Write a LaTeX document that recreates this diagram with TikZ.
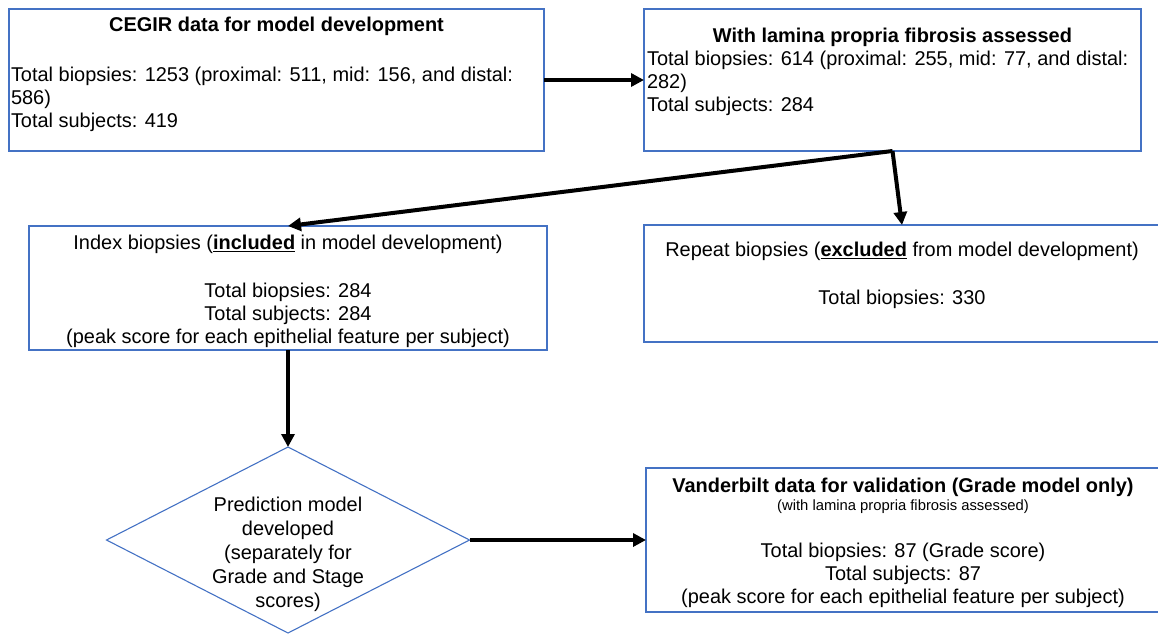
\documentclass[tikz,border=0pt]{standalone}
\usepackage{fontspec}
\setmainfont{Liberation Sans}
\usetikzlibrary{shapes.geometric,arrows.meta}
\definecolor{boxblue}{RGB}{68,114,196}
\begin{document}
\begin{tikzpicture}[x=1pt,y=-1pt,
  frame/.style={draw=boxblue,line width=1.1pt,inner sep=0pt,outer sep=0pt},
  txt/.style={inner sep=0pt,outer sep=0pt,font=\fontsize{19.95}{23}\selectfont},
  ttl/.style={inner sep=0pt,outer sep=0pt,font=\fontsize{19.95}{23}\selectfont\bfseries},
  flow/.style={line width=4pt,-{Triangle[length=13pt,width=13pt]}}]
\useasboundingbox (0,0) rectangle (1158,635);
% boxes
\node[frame,minimum width=535pt,minimum height=142pt] (A) at (276.5,80) {};
\node[frame,minimum width=497pt,minimum height=142pt] (B) at (892.5,80) {};
\node[frame,minimum width=518pt,minimum height=124pt] (C) at (288,288) {};
\node[frame,minimum width=516pt,minimum height=117pt] (D) at (902,283.5) {};
\node[frame,diamond,aspect=1.95,minimum width=363pt,minimum height=186pt] (P) at (288,540) {};
\node[frame,minimum width=514pt,minimum height=144pt] (E) at (903,540) {};
% texts
\node[ttl,anchor=north] (At) at (276.5,17.5) {CEGIR data for model development};
\node[txt,anchor=north west,align=left] (Ab) at (11,67.5) {Total biopsies: 1253 (proximal: 511, mid: 156, and distal:\\586)\\Total subjects: 419};
\node[ttl,anchor=north] (Bt) at (892.5,28.5) {With lamina propria fibrosis assessed};
\node[txt,anchor=north west,align=left] (Bb) at (647,51.5) {Total biopsies: 614 (proximal: 255, mid: 77, and distal:\\282)\\Total subjects: 284};
\node[txt,anchor=north,align=center] (Ct) at (288,235) {Index biopsies (\underline{\textbf{included}} in model development)\\[25pt]Total biopsies: 284\\Total subjects: 284\\(peak score for each epithelial feature per subject)};
\node[txt,anchor=north,align=center] (Dt) at (902,242) {Repeat biopsies (\underline{\textbf{excluded}} from model development)\\[25pt]Total biopsies: 330};
\node[txt,anchor=north,align=center,font=\fontsize{19.95}{24}\selectfont] (Pt) at (288,497.5) {Prediction model\\developed\\(separately for\\Grade and Stage\\scores)};
\node[ttl,anchor=north] (Et) at (903,478) {Vanderbilt data for validation (Grade model only)};
\node[inner sep=0pt,anchor=base,font=\fontsize{14.8}{16}\selectfont] (Es) at (903,510) {(with lamina propria fibrosis assessed)};
\node[txt,anchor=north,align=center] (Eb) at (903,543) {Total biopsies: 87 (Grade score)\\Total subjects: 87\\(peak score for each epithelial feature per subject)};
% connectors
\draw[flow] (A.east) -- (B.west);
\draw[flow] (B.south) -- (C.north);
\draw[flow] (B.south) -- (D.north);
\draw[flow] (C.south) -- (P.north);
\draw[flow] (P.east) -- (E.west);
\end{tikzpicture}
\end{document}
